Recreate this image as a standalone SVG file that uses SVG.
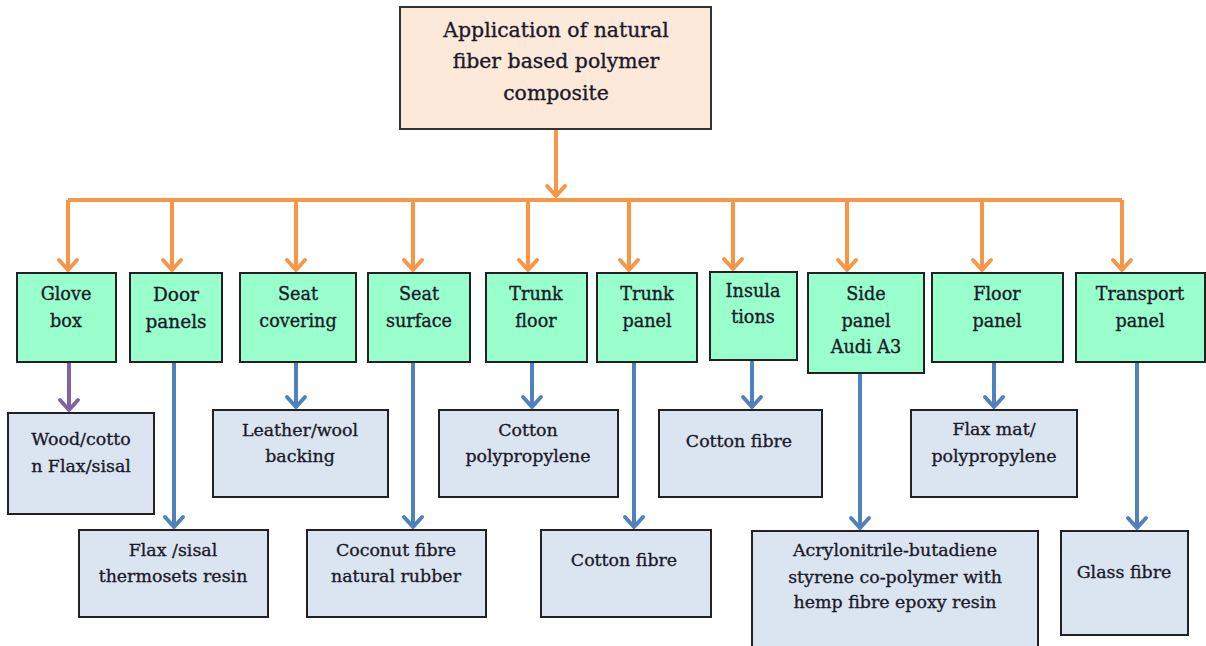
<svg xmlns="http://www.w3.org/2000/svg" width="1206" height="646" viewBox="0 0 1206 646">
<defs>
<style>
.t{font-family:"DejaVu Serif","Liberation Serif",serif;fill:#1a1a2a;stroke:#1a1a2a;stroke-width:0.35;text-anchor:middle}
.top{fill:#fde9d9;stroke:#333;stroke-width:2}
.g{fill:#99ffcc;stroke:#222;stroke-width:2}
.b{fill:#dbe5f1;stroke:#222;stroke-width:2}
.co{fill:none;stroke:#f79646;stroke-width:4}
.cb{fill:none;stroke:#4f81bd;stroke-width:4}
.cp{fill:none;stroke:#8064a2;stroke-width:4}
.s17{font-size:17.6px}
.s18{font-size:18.5px}
.s16{font-size:17.4px}
.s20{font-size:20.4px}
</style>
<marker id="mo" viewBox="-14 -13 18 26" markerWidth="18" markerHeight="26" refX="0" refY="0" orient="auto" markerUnits="userSpaceOnUse"><path d="M-10,-9 L0,0 L-10,9" fill="none" stroke="#f79646" stroke-width="4" stroke-linejoin="round" stroke-linecap="round"/></marker>
<marker id="mb" viewBox="-14 -13 18 26" markerWidth="18" markerHeight="26" refX="0" refY="0" orient="auto" markerUnits="userSpaceOnUse"><path d="M-10,-9 L0,0 L-10,9" fill="none" stroke="#4f81bd" stroke-width="4" stroke-linejoin="round" stroke-linecap="round"/></marker>
<marker id="mp" viewBox="-14 -13 18 26" markerWidth="18" markerHeight="26" refX="0" refY="0" orient="auto" markerUnits="userSpaceOnUse"><path d="M-10,-9 L0,0 L-10,9" fill="none" stroke="#8064a2" stroke-width="4" stroke-linejoin="round" stroke-linecap="round"/></marker>
</defs>
<rect width="1206" height="646" fill="#fff"/>

<g id="connectors">
<path class="co" d="M68,200 H1122"/>
<path class="co" d="M556,129 V196" marker-end="url(#mo)"/>
<path class="co" d="M68,200 V270" marker-end="url(#mo)"/>
<path class="co" d="M172,200 V270" marker-end="url(#mo)"/>
<path class="co" d="M296,200 V270" marker-end="url(#mo)"/>
<path class="co" d="M413,200 V270" marker-end="url(#mo)"/>
<path class="co" d="M528,200 V270" marker-end="url(#mo)"/>
<path class="co" d="M629,200 V270" marker-end="url(#mo)"/>
<path class="co" d="M733,200 V269" marker-end="url(#mo)"/>
<path class="co" d="M847,200 V270" marker-end="url(#mo)"/>
<path class="co" d="M982,200 V270" marker-end="url(#mo)"/>
<path class="co" d="M1122,200 V270" marker-end="url(#mo)"/>
<path class="cp" d="M69,363 V410" marker-end="url(#mp)"/>
<path class="cb" d="M174,363 V527" marker-end="url(#mb)"/>
<path class="cb" d="M296,363 V407" marker-end="url(#mb)"/>
<path class="cb" d="M413,363 V527" marker-end="url(#mb)"/>
<path class="cb" d="M532,363 V407" marker-end="url(#mb)"/>
<path class="cb" d="M634,363 V527" marker-end="url(#mb)"/>
<path class="cb" d="M752,361 V407" marker-end="url(#mb)"/>
<path class="cb" d="M860,374 V528" marker-end="url(#mb)"/>
<path class="cb" d="M994,363 V407" marker-end="url(#mb)"/>
<path class="cb" d="M1137,363 V528" marker-end="url(#mb)"/>
</g>

<g id="root"><rect class="top" x="400" y="7" width="311" height="122"/>
<text class="t s20" x="556" y="37">Application of natural</text>
<text class="t s20" x="556" y="68">fiber based polymer</text>
<text class="t s20" x="556" y="100">composite</text></g>

<g id="glove-box"><rect class="g" x="17" y="273" width="99" height="89"/><text class="t s17" x="66" y="300">Glove</text><text class="t s17" x="66" y="327">box</text></g>
<g id="door-panels"><rect class="g" x="130" y="273" width="92" height="89"/><text class="t s18" x="176" y="301">Door</text><text class="t s18" x="176" y="328">panels</text></g>
<g id="seat-covering"><rect class="g" x="240" y="273" width="116" height="89"/><text class="t s17" x="298" y="300">Seat</text><text class="t s17" x="298" y="327">covering</text></g>
<g id="seat-surface"><rect class="g" x="368" y="273" width="102" height="89"/><text class="t s17" x="419" y="300">Seat</text><text class="t s17" x="419" y="327">surface</text></g>
<g id="trunk-floor"><rect class="g" x="486" y="273" width="101" height="89"/><text class="t s17" x="536" y="300">Trunk</text><text class="t s17" x="536" y="327">floor</text></g>
<g id="trunk-panel"><rect class="g" x="597" y="273" width="100" height="89"/><text class="t s17" x="647" y="300">Trunk</text><text class="t s17" x="647" y="327">panel</text></g>
<g id="insulations"><rect class="g" x="710" y="272" width="87" height="88"/><text class="t s17" x="753" y="297">Insula</text><text class="t s17" x="753" y="323">tions</text></g>
<g id="side-panel"><rect class="g" x="808" y="273" width="116" height="100"/><text class="t s17" x="866" y="300">Side</text><text class="t s17" x="866" y="327">panel</text><text class="t s17" x="866" y="353">Audi A3</text></g>
<g id="floor-panel"><rect class="g" x="932" y="273" width="131" height="89"/><text class="t s17" x="997" y="300">Floor</text><text class="t s17" x="997" y="327">panel</text></g>
<g id="transport-panel"><rect class="g" x="1076" y="273" width="129" height="89"/><text class="t s17" x="1140" y="300">Transport</text><text class="t s17" x="1140" y="327">panel</text></g>

<g id="wood-cotton"><rect class="b" x="8" y="413" width="146" height="101"/><text class="t s16" x="81" y="445">Wood/cotto</text><text class="t s16" x="81" y="472">n Flax/sisal</text></g>
<g id="flax-sisal"><rect class="b" x="79" y="530" width="189" height="87"/><text class="t s16" x="173" y="556">Flax /sisal</text><text class="t s16" x="173" y="582">thermosets resin</text></g>
<g id="leather-wool"><rect class="b" x="213" y="410" width="175" height="87"/><text class="t s16" x="300" y="436">Leather/wool</text><text class="t s16" x="300" y="462">backing</text></g>
<g id="coconut"><rect class="b" x="307" y="530" width="179" height="87"/><text class="t s16" x="396" y="556">Coconut fibre</text><text class="t s16" x="396" y="582">natural rubber</text></g>
<g id="cotton-pp"><rect class="b" x="439" y="410" width="179" height="87"/><text class="t s16" x="528" y="436">Cotton</text><text class="t s16" x="528" y="462">polypropylene</text></g>
<g id="cotton-fibre-1"><rect class="b" x="541" y="530" width="170" height="87"/><text class="t s16" x="624" y="566">Cotton fibre</text></g>
<g id="cotton-fibre-2"><rect class="b" x="659" y="410" width="163" height="87"/><text class="t s16" x="739" y="447">Cotton fibre</text></g>
<g id="acrylonitrile"><rect class="b" x="752" y="531" width="286" height="130"/><text class="t s16" x="895" y="556">Acrylonitrile-butadiene</text><text class="t s16" x="895" y="583">styrene co-polymer with</text><text class="t s16" x="895" y="608">hemp fibre epoxy resin</text></g>
<g id="flax-mat"><rect class="b" x="911" y="410" width="166" height="87"/><text class="t s16" x="994" y="435">Flax mat/</text><text class="t s16" x="994" y="462">polypropylene</text></g>
<g id="glass-fibre"><rect class="b" x="1061" y="531" width="127" height="104"/><text class="t s16" x="1124" y="578">Glass fibre</text></g>
</svg>
